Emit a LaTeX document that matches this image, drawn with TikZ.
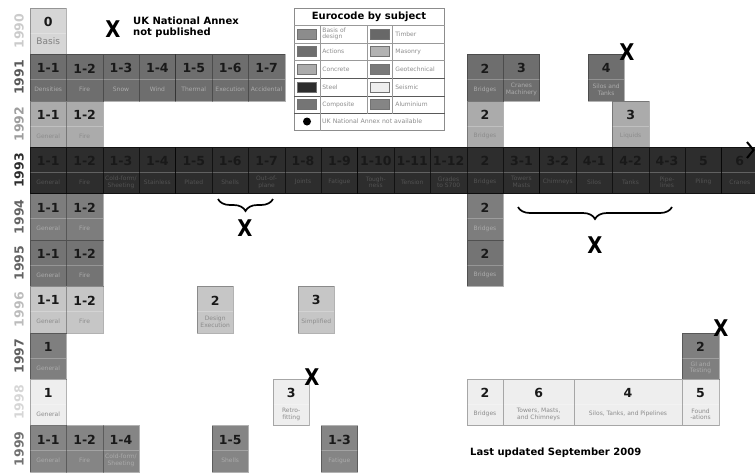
\documentclass[tikz,border=0pt]{standalone}
\usepackage{fontspec}
\setmainfont{DejaVu Sans}
\usetikzlibrary{positioning,decorations.pathreplacing}
\definecolor{basis}{RGB}{214,214,214}
\definecolor{actions}{RGB}{110,110,110}
\definecolor{concrete}{RGB}{171,171,171}
\definecolor{steel}{RGB}{45,45,45}
\definecolor{composite}{RGB}{125,125,125}
\definecolor{timber}{RGB}{116,116,116}
\definecolor{masonry}{RGB}{198,198,198}
\definecolor{geotech}{RGB}{127,127,127}
\definecolor{seismic}{RGB}{238,238,238}
\definecolor{alu}{RGB}{133,133,133}

\tikzset{
  ecbox/.style={draw=black, draw opacity=.3, line width=.5pt, inner sep=0pt,
    outer sep=0pt, minimum width=36.4pt, minimum height=46.4pt,
    path picture={\draw[white, opacity=.25]
      ([yshift=-25pt]path picture bounding box.north west) --
      ([yshift=-25pt]path picture bounding box.north east);}},
  numtext/.style={anchor=center, yshift=-14pt, text=black!90,
    font=\fontsize{12.5}{12.5}\selectfont\bfseries},
  subtext/.style={anchor=center, yshift=11.4pt, text=black!45, align=center,
    inner sep=0pt, font=\fontsize{6}{6.8}\selectfont},
  code/.style 2 args={label={[numtext]north:#1}, label={[subtext]south:#2}},
  midtone/.style={subtext/.append style={text=black!33}}
}

\begin{document}
\begin{tikzpicture}[
  x=1pt, y=-1pt,
  node distance=0pt,
  yearlab/.style={rotate=90, font=\fontsize{12.5}{12.5}\selectfont\bfseries},
  noannex/.style={inner sep=0pt, xscale=.85,
    font=\fontsize{23}{23}\selectfont\bfseries},
  brace/.style={decorate, decoration={brace, mirror, amplitude=12pt},
    line width=1.7pt},
  swatch/.style={draw=black!55, minimum width=19pt, minimum height=10pt,
    inner sep=0pt},
  legtext/.style={text=black!45, align=left, inner sep=0pt,
    font=\fontsize{6}{6.6}\selectfont},
  legline/.style={draw=black!40, line width=.5pt},
  legbold/.style={draw=black!65, line width=1pt}
]
\clip (0,0) rectangle (755,472);

% years
\node[yearlab, text=basis!95!black]     (y1990) at (19,31.2)  {1990};
\node[yearlab, text=actions!80!black]   (y1991) at (19,77.6)  {1991};
\node[yearlab, text=concrete!92!black]  (y1992) at (19,124)   {1992};
\node[yearlab, text=steel]              (y1993) at (19,170.4) {1993};
\node[yearlab, text=composite!80!black] (y1994) at (19,216.8) {1994};
\node[yearlab, text=timber!85!black]    (y1995) at (19,263.2) {1995};
\node[yearlab, text=masonry!95!black]   (y1996) at (19,309.6) {1996};
\node[yearlab, text=geotech!75!black]   (y1997) at (19,356)   {1997};
\node[yearlab, text=seismic!90!black]   (y1998) at (19,402.4) {1998};
\node[yearlab, text=alu!85!black]       (y1999) at (19,448.8) {1999};

% 1990
\node[ecbox, fill=basis, anchor=north west, label={[numtext]north:0},
  label={[subtext, text=black!50, font=\fontsize{9}{10}\selectfont,
  yshift=2pt]south:Basis}] (bas0) at (30,8) {};

% 1991
\begin{scope}[midtone]
\node[ecbox, fill=actions, code={1-1}{Densities}, anchor=north west]
  (act11) at (30,54.4) {};
\node[ecbox, fill=actions, code={1-2}{Fire}, right=of act11] (act12) {};
\node[ecbox, fill=actions, code={1-3}{Snow}, right=of act12] (act13) {};
\node[ecbox, fill=actions, code={1-4}{Wind}, right=of act13] (act14) {};
\node[ecbox, fill=actions, code={1-5}{Thermal}, right=of act14] (act15) {};
\node[ecbox, fill=actions, code={1-6}{Execution}, right=of act15] (act16) {};
\node[ecbox, fill=actions, code={1-7}{Accidental}, right=of act16] (act17) {};
\node[ecbox, fill=actions, code={2}{Bridges}, anchor=north west]
  (act2) at (466.8,54.4) {};
\node[ecbox, fill=actions, code={3}{Cranes\\Machinery}, right=of act2] (act3) {};
\node[ecbox, fill=actions, code={4}{Silos and\\Tanks}, anchor=north west]
  (act4) at (588,54.4) {};
\end{scope}

% 1992
\node[ecbox, fill=concrete, code={1-1}{General}, anchor=north west]
  (con11) at (30,100.8) {};
\node[ecbox, fill=concrete, code={1-2}{Fire}, right=of con11] (con12) {};
\node[ecbox, fill=concrete, code={2}{Bridges}, anchor=north west]
  (con2) at (466.8,100.8) {};
\node[ecbox, fill=concrete, code={3}{Liquids}, anchor=north west]
  (con3) at (612.4,100.8) {};

% 1993
\begin{scope}[subtext/.append style={text=black!68},
  ecbox/.append style={fill=steel, draw opacity=.6}]
\node[ecbox, code={1-1}{General}, anchor=north west] (ste11) at (30,147.2) {};
\node[ecbox, code={1-2}{Fire}, right=of ste11] (ste12) {};
\node[ecbox, code={1-3}{Cold-form/\\Sheeting}, right=of ste12] (ste13) {};
\node[ecbox, code={1-4}{Stainless}, right=of ste13] (ste14) {};
\node[ecbox, code={1-5}{Plated}, right=of ste14] (ste15) {};
\node[ecbox, code={1-6}{Shells}, right=of ste15] (ste16) {};
\node[ecbox, code={1-7}{Out-of-\\plane}, right=of ste16] (ste17) {};
\node[ecbox, code={1-8}{Joints}, right=of ste17] (ste18) {};
\node[ecbox, code={1-9}{Fatigue}, right=of ste18] (ste19) {};
\node[ecbox, code={1-10}{Tough-\\ness}, right=of ste19] (ste110) {};
\node[ecbox, code={1-11}{Tension}, right=of ste110] (ste111) {};
\node[ecbox, code={1-12}{Grades\\to S700}, right=of ste111] (ste112) {};
\node[ecbox, code={2}{Bridges}, right=of ste112] (ste2) {};
\node[ecbox, code={3-1}{Towers\\Masts}, right=of ste2] (ste31) {};
\node[ecbox, code={3-2}{Chimneys}, right=of ste31] (ste32) {};
\node[ecbox, code={4-1}{Silos}, right=of ste32] (ste41) {};
\node[ecbox, code={4-2}{Tanks}, right=of ste41] (ste42) {};
\node[ecbox, code={4-3}{Pipe-\\lines}, right=of ste42] (ste43) {};
\node[ecbox, code={5}{Piling}, right=of ste43] (ste5) {};
\node[ecbox, code={6}{Cranes}, right=of ste5] (ste6) {};
\end{scope}
\draw[line width=2pt] (747,142) -- (753.5,150) -- (747,158);

\begin{scope}[midtone]
% 1994
\node[ecbox, fill=composite, code={1-1}{General}, anchor=north west]
  (com11) at (30,193.6) {};
\node[ecbox, fill=composite, code={1-2}{Fire}, right=of com11] (com12) {};
\node[ecbox, fill=composite, code={2}{Bridges}, anchor=north west]
  (com2) at (466.8,193.6) {};

% 1995
\node[ecbox, fill=timber, code={1-1}{General}, anchor=north west]
  (tim11) at (30,240) {};
\node[ecbox, fill=timber, code={1-2}{Fire}, right=of tim11] (tim12) {};
\node[ecbox, fill=timber, code={2}{Bridges}, anchor=north west]
  (tim2) at (466.8,240) {};
\end{scope}

% 1996
\node[ecbox, fill=masonry, code={1-1}{General}, anchor=north west]
  (mas11) at (30,286.4) {};
\node[ecbox, fill=masonry, code={1-2}{Fire}, right=of mas11] (mas12) {};
\node[ecbox, fill=masonry, code={2}{Design\\Execution}, anchor=north west]
  (mas2) at (197,286.4) {};
\node[ecbox, fill=masonry, code={3}{Simplified}, anchor=north west]
  (mas3) at (298,286.4) {};

% 1997
\begin{scope}[midtone]
\node[ecbox, fill=geotech, code={1}{General}, anchor=north west]
  (geo1) at (30,332.8) {};
\node[ecbox, fill=geotech, code={2}{GI and\\Testing}, minimum width=37pt,
  anchor=north west] (geo2) at (682,332.8) {};
\end{scope}

% 1998
\node[ecbox, fill=seismic, code={1}{General}, anchor=north west]
  (sei1) at (30,379.2) {};
\node[ecbox, fill=seismic, code={3}{Retro-\\fitting}, anchor=north west]
  (sei3) at (273,379.2) {};
\node[ecbox, fill=seismic, code={2}{Bridges}, anchor=north west]
  (sei2) at (466.8,379.2) {};
\node[ecbox, fill=seismic, code={6}{Towers, Masts,\\and Chimneys},
  minimum width=70.8pt, right=of sei2] (sei6) {};
\node[ecbox, fill=seismic, code={4}{Silos, Tanks, and Pipelines},
  minimum width=108pt, right=of sei6] (sei4) {};
\node[ecbox, fill=seismic, code={5}{Found\\-ations},
  minimum width=37pt, right=of sei4] (sei5) {};

% 1999
\begin{scope}[midtone]
\node[ecbox, fill=alu, code={1-1}{General}, anchor=north west]
  (alu11) at (30,425.6) {};
\node[ecbox, fill=alu, code={1-2}{Fire}, right=of alu11] (alu12) {};
\node[ecbox, fill=alu, code={1-4}{Cold-form/\\Sheeting}, right=of alu12] (alu14) {};
\node[ecbox, fill=alu, code={1-5}{Shells}, anchor=north west]
  (alu15) at (212,425.6) {};
\node[ecbox, fill=alu, code={1-3}{Fatigue}, anchor=north west]
  (alu13) at (321.2,425.6) {};
\end{scope}

% not published
\draw[brace] (218,199) -- (273,199);
\draw[brace] (518,207) -- (672,207);
\node[noannex] (xkey)   at (113,29)  {X};
\node[noannex] (xsilos) at (627,52)  {X};
\node[noannex] (xsteel) at (245,228) {X};
\node[noannex] (xparts) at (595,245) {X};
\node[noannex] (xretro) at (312,377) {X};
\node[noannex] (xgeo)   at (721,328) {X};
\node[anchor=west, align=left, inner sep=0pt,
  font=\fontsize{10}{11}\selectfont\bfseries] (keytext) at (133,27.5)
  {UK National Annex\\not published};
\node[anchor=west, inner sep=0pt, font=\fontsize{10}{10}\selectfont\bfseries]
  (updated) at (470,453) {Last updated September 2009};

% legend
\node[draw=black!45, line width=.6pt, minimum width=150pt, minimum height=122pt,
  inner sep=0pt, anchor=north west] (legend) at (294,8) {};
\node[font=\fontsize{10}{10}\selectfont\bfseries] (legtitle) at (369,16.5)
  {Eurocode by subject};
\draw[legline] ([yshift=-17pt]legend.north west) -- ([yshift=-17pt]legend.north east);
\draw[legline] ([yshift=-35pt]legend.north west) -- ([yshift=-35pt]legend.north east);
\draw[legline] ([yshift=-52pt]legend.north west) -- ([yshift=-52pt]legend.north east);
\draw[legbold] ([yshift=-70pt]legend.north west) -- ([yshift=-70pt]legend.north east);
\draw[legbold] ([yshift=-88pt]legend.north west) -- ([yshift=-88pt]legend.north east);
\draw[legbold] ([yshift=-105pt]legend.north west) -- ([yshift=-105pt]legend.north east);
\draw[legline] ([xshift=26pt,yshift=-17pt]legend.north west) -- ([xshift=26pt]legend.south west);
\draw[legline] ([xshift=73pt,yshift=-17pt]legend.north west) -- ([xshift=73pt,yshift=17pt]legend.south west);
\draw[legline] ([xshift=98pt,yshift=-17pt]legend.north west) -- ([xshift=98pt,yshift=17pt]legend.south west);
\node[swatch, fill=black!45] (swbas) at (307,34)    {};
\node[swatch, fill=actions]  (swact) at (307,51.5)  {};
\node[swatch, fill=concrete] (swcon) at (307,69)    {};
\node[swatch, fill=steel]    (swste) at (307,87)    {};
\node[swatch, fill=actions!95!white] (swcom) at (307,104.5) {};
\node[swatch, fill=timber!90!black]  (swtim) at (380,34)  {};
\node[swatch, fill=masonry!90!black] (swmas) at (380,51.5) {};
\node[swatch, fill=geotech!95!black] (swgeo) at (380,69)  {};
\node[swatch, fill=seismic]  (swsei) at (380,87)    {};
\node[swatch, fill=alu]      (swalu) at (380,104.5) {};
\node[legtext, right=5.5pt of swbas] (lgbas) {Basis of\\design};
\node[legtext, right=5.5pt of swact] (lgact) {Actions};
\node[legtext, right=5.5pt of swcon] (lgcon) {Concrete};
\node[legtext, right=5.5pt of swste] (lgste) {Steel};
\node[legtext, right=5.5pt of swcom] (lgcom) {Composite};
\node[legtext, right=5.5pt of swtim] (lgtim) {Timber};
\node[legtext, right=5.5pt of swmas] (lgmas) {Masonry};
\node[legtext, right=5.5pt of swgeo] (lggeo) {Geotechnical};
\node[legtext, right=5.5pt of swsei] (lgsei) {Seismic};
\node[legtext, right=5.5pt of swalu] (lgalu) {Aluminium};
\node[circle, fill=black, minimum size=8pt, inner sep=0pt] (dot) at (307,121.5) {};
\node[legtext, font=\fontsize{6.2}{6.2}\selectfont, anchor=west] (lgdot)
  at (322,121.5) {UK National Annex not available};
\end{tikzpicture}
\end{document}
